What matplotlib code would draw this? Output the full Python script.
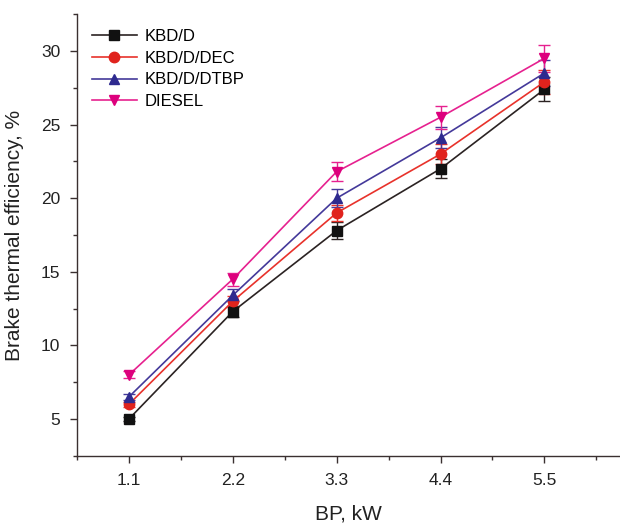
import matplotlib.pyplot as plt
import numpy as np

plt.rcParams['font.family'] = ['Liberation Sans', 'DejaVu Sans']

# 数据
bp = [1.1, 2.2, 3.3, 4.4, 5.5]
kbd_d = [5.0, 12.3, 17.8, 22.0, 27.4]
kbd_d_dec = [6.0, 13.0, 19.0, 23.0, 27.9]
kbd_d_dtbp = [6.5, 13.4, 20.0, 24.1, 28.5]
diesel = [8.0, 14.5, 21.8, 25.5, 29.5]

err_kbd_d = [0.15, 0.37, 0.55, 0.65, 0.8]
err_dec = [0.18, 0.39, 0.57, 0.69, 0.84]
err_dtbp = [0.2, 0.4, 0.6, 0.72, 0.86]
err_diesel = [0.24, 0.44, 0.65, 0.77, 0.9]

labels = ['KBD/D', 'KBD/D/DEC', 'KBD/D/DTBP', 'DIESEL']
line_colors = ['#2b2323', '#e8322b', '#44399a', '#e6218f']
marker_colors = ['#111111', '#e0231d', '#2e2a8f', '#dd007d']
markers = ['s', 'o', '^', 'v']

fig = plt.figure(figsize=(6.2, 5.24), dpi=100)
ax = fig.add_axes([0.124, 0.130, 0.876, 0.843])

series = [kbd_d, kbd_d_dec, kbd_d_dtbp, diesel]
errors = [err_kbd_d, err_dec, err_dtbp, err_diesel]
handles = []
for ys, es, lab, lc, mc, m in zip(series, errors, labels, line_colors, marker_colors, markers):
    c = ax.errorbar(bp, ys, yerr=es, color=lc, lw=1.2, marker=m, markersize=7.5,
                    markerfacecolor=mc, markeredgecolor=mc, ecolor=lc, elinewidth=1.0,
                    capsize=4, capthick=1.0, label=lab)
    handles.append(c[0])

ax.set_xlim(0.55, 6.3)
ax.set_ylim(2.5, 32.5)
ax.set_xticks(bp)
ax.set_xticklabels(['1.1', '2.2', '3.3', '4.4', '5.5'])
ax.set_xticks(np.arange(0.55, 6.3, 1.1), minor=True)
ax.set_yticks([5, 10, 15, 20, 25, 30])
ax.set_yticks(np.arange(2.5, 32.6, 2.5), minor=True)

for s in ['top', 'right']:
    ax.spines[s].set_visible(False)
for s in ['left', 'bottom']:
    ax.spines[s].set_color('#3a3030')
    ax.spines[s].set_linewidth(1.0)

ax.tick_params(which='major', direction='out', length=5, width=1.0, labelsize=12.5,
               colors='#3a3030', labelcolor='#222222', pad=7)
ax.tick_params(which='minor', direction='out', length=3, width=1.0, colors='#3a3030')

ax.set_xlabel('BP, kW', fontsize=15, labelpad=12, color='#222222')
ax.set_ylabel('Brake thermal efficiency, %', fontsize=15, labelpad=12, color='#222222')

# 图例
ax.legend(handles, labels, loc='upper left', bbox_to_anchor=(0.0, 1.0), frameon=False,
          fontsize=12, handlelength=2.7, labelspacing=0.4, handletextpad=0.45)

fig.savefig('out.png', dpi=100)
